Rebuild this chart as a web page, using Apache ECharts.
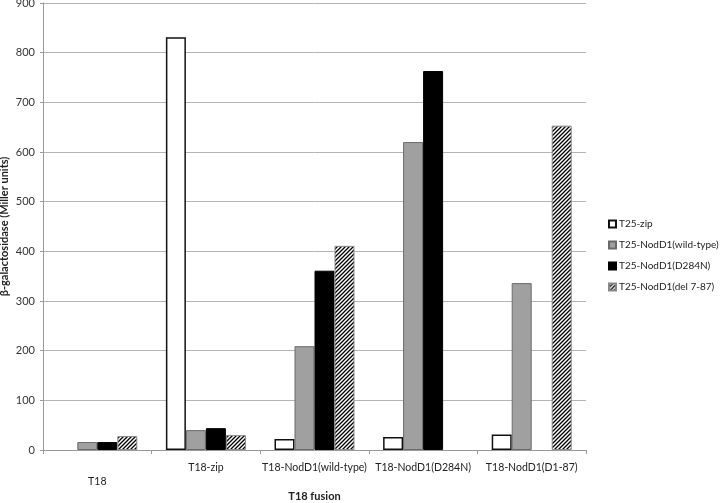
<!DOCTYPE html>
<html>
<head>
<meta charset="utf-8">
<script src="https://cdn.jsdelivr.net/npm/echarts@6/dist/echarts.min.js"></script>
<style>
  html, body { margin: 0; padding: 0; background: #fff; }
  #chart { width: 720px; height: 503px; }
</style>
</head>
<body>
<div id="chart"></div>
<script>
const categories = ['\nT18', 'T18-zip', 'T18-NodD1(wild-type)', 'T18-NodD1(D284N)', 'T18-NodD1(D1-87)']
const seriesNames = ['T25-zip', 'T25-NodD1(wild-type)', 'T25-NodD1(D284N)', 'T25-NodD1(del 7-87)']
const zipValues = [0, 831, 22, 26, 31]
const wildTypeValues = [16, 40, 209, 620, 336]
const d284nValues = [16, 44, 361, 763, 0]
const delValues = [28, 30, 411, 0, 653]

function hatch() {
  const c = document.createElement('canvas')
  c.width = 4
  c.height = 4
  const ctx = c.getContext('2d')
  ctx.fillStyle = '#fff'
  ctx.fillRect(0, 0, 4, 4)
  ctx.strokeStyle = '#000'
  ctx.lineWidth = 1.3
  ctx.beginPath()
  ctx.moveTo(-1, 5); ctx.lineTo(5, -1)
  ctx.moveTo(-1, 1); ctx.lineTo(1, -1)
  ctx.moveTo(3, 5); ctx.lineTo(5, 3)
  ctx.stroke()
  return c
}

const font = 'Lato'
const chartDom = document.getElementById('chart')
const myChart = echarts.init(chartDom)

function bar(name, data, style) {
  return {
    name: name,
    type: 'bar',
    barWidth: 20,
    barGap: '0%',
    // no outline on empty bars
    data: data.map(v => v === 0 ? { value: v, itemStyle: { borderWidth: 0 } } : v),
    itemStyle: style,
    emphasis: { disabled: true }
  }
}

const option = {
  animation: false,
  textStyle: { fontFamily: font },
  grid: { left: 43, top: 3, right: 134, bottom: 53, outerBoundsMode: 'none', containLabel: false },
  legend: {
    orient: 'vertical',
    left: 603,
    top: 214,
    itemWidth: 7,
    itemHeight: 7,
    itemGap: 11,
    icon: 'rect',
    textStyle: { fontSize: 10, color: '#222', fontFamily: font, padding: [0, 0, 0, -2] },
    data: seriesNames
  },
  xAxis: {
    type: 'category',
    data: categories,
    name: 'T18 fusion',
    nameLocation: 'middle',
    nameGap: 46,
    nameMoveOverlap: false,
    nameTextStyle: { fontWeight: 'bold', fontSize: 11, color: '#222', verticalAlign: 'middle', lineHeight: 12 },
    axisLine: { lineStyle: { color: '#999' } },
    axisTick: { show: true, length: 4, lineStyle: { color: '#999' } },
    axisLabel: { fontSize: 10.5, color: '#222', margin: 11, lineHeight: 14, interval: 0 }
  },
  yAxis: {
    type: 'value',
    min: 0,
    max: 900,
    interval: 100,
    name: 'β-galactosidase (Miller units)',
    nameLocation: 'middle',
    nameGap: 33,
    nameMoveOverlap: false,
    nameTextStyle: { fontWeight: 'bold', fontSize: 11, color: '#222' },
    axisLine: { show: true, lineStyle: { color: '#999' } },
    axisTick: { show: true, length: 3, lineStyle: { color: '#999' } },
    axisLabel: { fontSize: 11, color: '#333', margin: 8 },
    splitLine: { lineStyle: { color: '#b5b5b5' } }
  },
  series: [
    bar(seriesNames[0], zipValues, { color: '#fff', borderColor: '#111', borderWidth: 1.5 }),
    bar(seriesNames[1], wildTypeValues, { color: '#a0a0a0', borderColor: '#6a6a6a', borderWidth: 1 }),
    bar(seriesNames[2], d284nValues, { color: '#000', borderColor: '#000', borderWidth: 1 }),
    bar(seriesNames[3], delValues, { color: { image: hatch(), repeat: 'repeat' }, borderColor: '#888', borderWidth: 1 })
  ]
}

option && myChart.setOption(option)
</script>
</body>
</html>
